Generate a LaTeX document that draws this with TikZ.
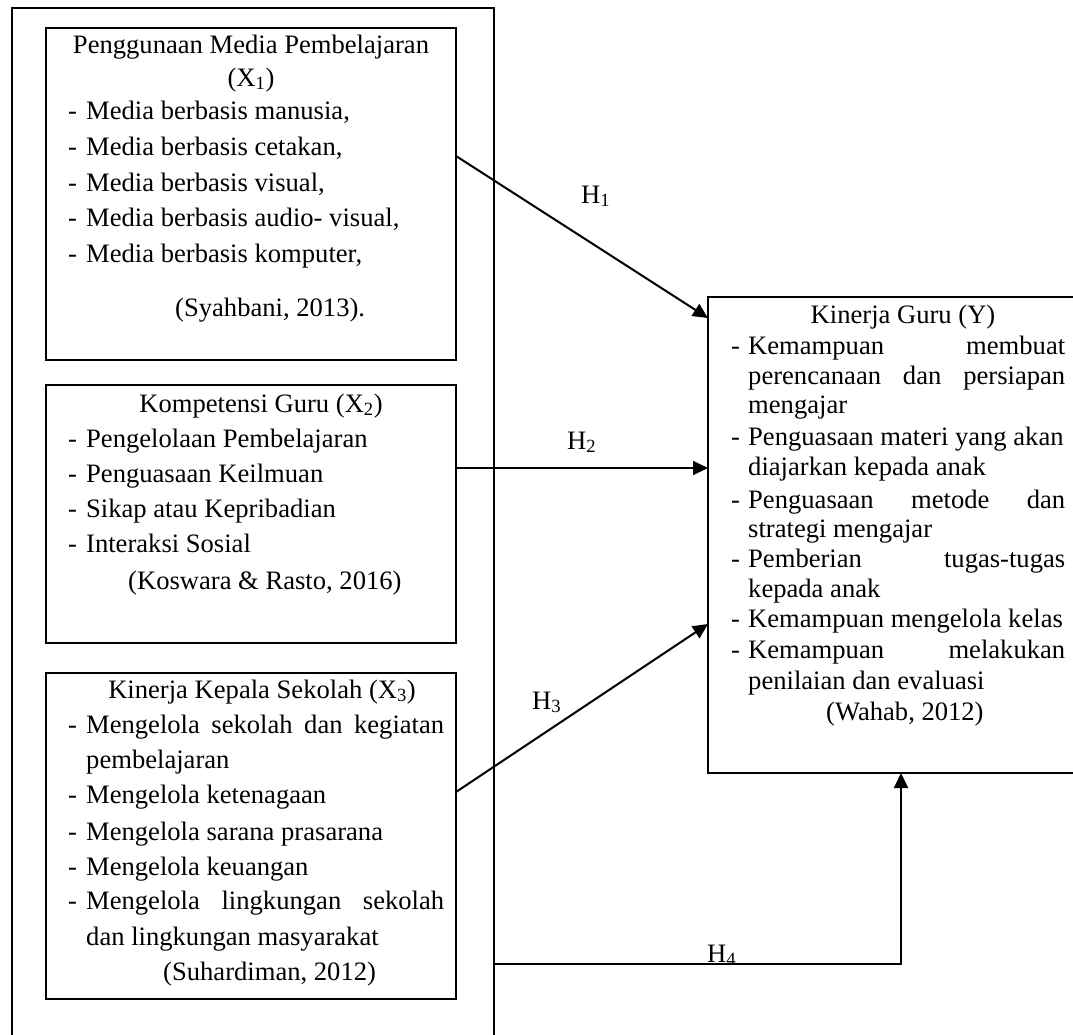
\documentclass[tikz,border=0pt]{standalone}
\usepackage{fontspec}
\setmainfont{Liberation Serif}
\usetikzlibrary{arrows.meta,calc}
\newcommand\fs{\fontsize{26.6}{30}\selectfont}
\newcommand\dl[2][18pt]{\makebox[#1][l]{-}#2}
\begin{document}
\begin{tikzpicture}[x=1pt,y=-1pt,
  box/.style={draw, line width=2pt, inner sep=0pt, outer sep=0pt},
  txt/.style={anchor=base west, inner sep=0pt, font=\fs},
  ctr/.style={anchor=base, inner sep=0pt, font=\fs},
  arr/.style={line width=2pt, -{Triangle[length=15pt,width=14pt]}},
  conn/.style={line width=2pt}]
\useasboundingbox (0,0) rectangle (1073,1034);
\clip (0,0) rectangle (1073,1034);
% boxes
\node[box, minimum width=482pt, minimum height=1032pt] (outer) at (253,524) {};
\node[box, minimum width=410pt, minimum height=332pt] (x1) at (251,194) {};
\node[box, minimum width=410pt, minimum height=258pt] (x2) at (251,514) {};
\node[box, minimum width=410pt, minimum height=326pt] (x3) at (251,836) {};
\node[box, minimum width=382pt, minimum height=476pt] (y) at (899,535) {};
% X1 text
\node[ctr] (t10) at (251,53) {Penggunaan Media Pembelajaran};
\node[ctr] (t11) at (251,86) {(X\textsubscript{1})};
\node[txt] (t12) at (68,119) {\dl{Media berbasis manusia,}};
\node[txt] (t13) at (68,155) {\dl{Media berbasis cetakan,}};
\node[txt] (t14) at (68,191) {\dl{Media berbasis visual,}};
\node[txt] (t15) at (68,226) {\dl{Media berbasis audio- visual,}};
\node[txt] (t16) at (68,262) {\dl{Media berbasis komputer,}};
\node[txt] (t17) at (175,316) {(Syahbani, 2013).};
% X2 text
\node[ctr] (t20) at (261,412) {Kompetensi Guru (X\textsubscript{2})};
\node[txt] (t21) at (68,447) {\dl{Pengelolaan Pembelajaran}};
\node[txt] (t22) at (68,482) {\dl{Penguasaan Keilmuan}};
\node[txt] (t23) at (68,517) {\dl{Sikap atau Kepribadian}};
\node[txt] (t24) at (68,552) {\dl{Interaksi Sosial}};
\node[txt] (t25) at (128,589) {(Koswara \& Rasto, 2016)};
% X3 text
\node[ctr] (t30) at (262,698) {Kinerja Kepala Sekolah (X\textsubscript{3})};
\node[txt] (t31) at (68,733) {\dl{\hbox to 358pt{Mengelola\hfill sekolah\hfill dan\hfill kegiatan}}};
\node[txt] (t32) at (86,768) {pembelajaran};
\node[txt] (t33) at (68,803) {\dl{Mengelola ketenagaan}};
\node[txt] (t34) at (68,840) {\dl{Mengelola sarana prasarana}};
\node[txt] (t35) at (68,875) {\dl{Mengelola keuangan}};
\node[txt] (t36) at (68,909) {\dl{\hbox to 358pt{Mengelola\hfill lingkungan\hfill sekolah}}};
\node[txt] (t37) at (86,945) {dan lingkungan masyarakat};
\node[txt] (t38) at (163,980) {(Suhardiman, 2012)};
% Y text
\node[ctr] (t40) at (903,323) {Kinerja Guru (Y)};
\node[txt] (t41) at (731,354) {\dl[17pt]{\hbox to 317pt{Kemampuan\hfill membuat}}};
\node[txt] (t42) at (748,384) {\hbox to 317pt{perencanaan\hfill dan\hfill persiapan}};
\node[txt] (t43) at (748,413) {mengajar};
\node[txt] (t44) at (731,445) {\dl[17pt]{Penguasaan materi yang akan}};
\node[txt] (t45) at (748,475) {diajarkan kepada anak};
\node[txt] (t46) at (731,508) {\dl[17pt]{\hbox to 317pt{Penguasaan\hfill metode\hfill dan}}};
\node[txt] (t47) at (748,537) {strategi mengajar};
\node[txt] (t48) at (731,567) {\dl[17pt]{\hbox to 317pt{Pemberian\hfill tugas-tugas}}};
\node[txt] (t49) at (748,597) {kepada anak};
\node[txt] (t4a) at (731,627) {\dl[17pt]{Kemampuan mengelola kelas}};
\node[txt] (t4b) at (731,658) {\dl[17pt]{\hbox to 317pt{Kemampuan\hfill melakukan}}};
\node[txt] (t4c) at (748,689) {penilaian dan evaluasi};
\node[txt] (t4d) at (826,720) {(Wahab, 2012)};
% connectors
\draw[arr] ([yshift=-128pt]x1.north east) -- ([yshift=-21pt]y.north west);
\draw[arr] ([yshift=-83pt]x2.north east) -- ([yshift=-171pt]y.north west);
\draw[arr] ([yshift=-119pt]x3.north east) -- ([yshift=-327pt]y.north west);
\draw[arr] ([yshift=-956pt]outer.north east) -| ([xshift=193pt]y.south west);
% labels
\node[txt] (h1) at (581,203) {H\textsubscript{1}};
\node[txt] (h2) at (567,449) {H\textsubscript{2}};
\node[txt] (h3) at (532,709) {H\textsubscript{3}};
\node[txt] (h4) at (707,962) {H\textsubscript{4}};
\end{tikzpicture}
\end{document}
